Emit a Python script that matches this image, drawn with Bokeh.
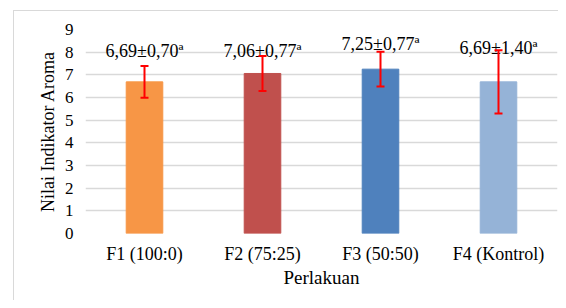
from bokeh.plotting import figure
from bokeh.models import ColumnDataSource, Whisker, Range1d, FixedTicker
from bokeh.embed import file_html
from bokeh.resources import INLINE
from bokeh.core.properties import value

categories = ["F1 (100:0)", "F2 (75:25)", "F3 (50:50)", "F4 (Kontrol)"]
means = [6.69, 7.06, 7.25, 6.69]
sds = [0.70, 0.77, 0.77, 1.40]
labels = ["6,69±0,70ª", "7,06±0,77ª", "7,25±0,77ª", "6,69±1,40ª"]
colors = ["#F79646", "#C0504D", "#4F81BD", "#95B3D7"]
y_ticks = [0, 1, 2, 3, 4, 5, 6, 7, 8, 9]

# styling: gap (px) between error-bar cap and label baseline
label_gap_px = [15, 5, 8, 2]

FONT = "Liberation Serif"
GRID = "#d9d9d9"

src = ColumnDataSource(dict(
    x=categories, top=means, color=colors,
    upper=[m + s for m, s in zip(means, sds)],
    lower=[m - s for m, s in zip(means, sds)],
    label=labels,
    gap=[-g for g in label_gap_px],
))

bg = ("linear-gradient(%s, %s) 13px 10px / 1px 100%% no-repeat, "
      "linear-gradient(%s, %s) 13px 10px / 100%% 1px no-repeat, #ffffff") % (GRID, GRID, GRID, GRID)

p = figure(x_range=categories, width=558, height=300, output_backend="svg",
           toolbar_location=None, min_border_left=85, min_border_right=1,
           min_border_top=29, min_border_bottom=67,
           border_fill_alpha=0, background_fill_color="#ffffff",
           styles={"background": bg})
p.y_range = Range1d(0, 9)
p.vbar(x="x", top="top", width=0.31, color="color", source=src)
w = Whisker(base="x", upper="upper", lower="lower", source=src,
            line_color="#FF0000", line_width=2, level="overlay")
for h in (w.upper_head, w.lower_head):
    h.line_color = "#FF0000"
    h.line_width = 2
    h.size = 8
p.add_layout(w)
p.text(x="x", y="upper", text="label", source=src, text_align="center",
       text_baseline="alphabetic", y_offset="gap", text_font=value(FONT),
       text_font_size="18px", text_color="#000000")

p.outline_line_color = None
p.xgrid.grid_line_color = None
p.ygrid.grid_line_color = GRID
p.ygrid.grid_line_width = 1.5
p.yaxis.ticker = FixedTicker(ticks=y_ticks)
for ax in (p.xaxis[0], p.yaxis[0]):
    ax.axis_line_color = None
    ax.major_tick_line_color = None
    ax.minor_tick_line_color = None
    ax.major_tick_out = 0
    ax.minor_tick_out = 0
    ax.major_label_text_font = FONT
    ax.major_label_text_color = "#000000"
    ax.axis_label_text_font = FONT
    ax.axis_label_text_font_style = "normal"
    ax.axis_label_text_color = "#000000"
p.xaxis.major_label_text_font_size = "18px"
p.yaxis.major_label_text_font_size = "17px"
p.xaxis.axis_label_text_font_size = "19px"
p.yaxis.axis_label_text_font_size = "18px"
p.xaxis.axis_label = "Perlakuan"
p.yaxis.axis_label = "Nilai Indikator Aroma"
p.xaxis.major_label_standoff = 10
p.yaxis.major_label_standoff = 12
p.xaxis.axis_label_standoff = 0
p.yaxis.axis_label_standoff = 4
p.x_range.range_padding = 0

open("out.html", "w").write(file_html(p, INLINE))
